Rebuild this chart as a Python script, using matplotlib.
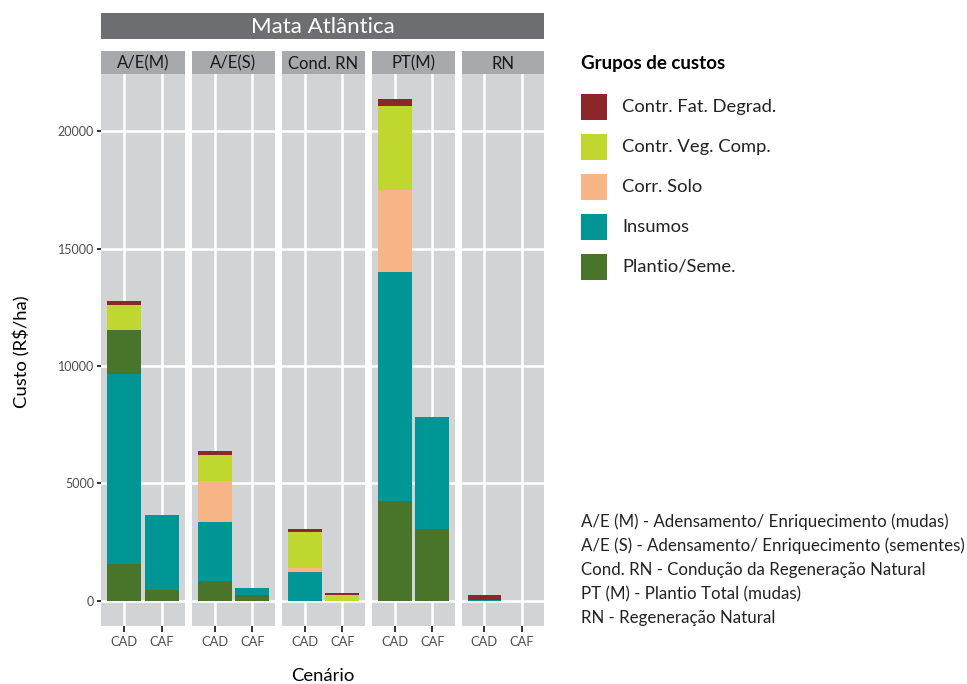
import matplotlib
matplotlib.use("Agg")
import matplotlib.pyplot as plt
import numpy as np

plt.rcParams['font.family'] = ['Lato', 'DejaVu Sans']

# Dados (R$/ha), segmentos empilhados de baixo para cima
facets = ['A/E(M)', 'A/E(S)', 'Cond. RN', 'PT(M)', 'RN']
cenarios = ['CAD', 'CAF']
grupos = ['Contr. Fat. Degrad.', 'Contr. Veg. Comp.', 'Corr. Solo', 'Insumos', 'Plantio/Seme.']
cores = ['#8B2629', '#C0D72F', '#F8B586', '#009696', '#48752A']

seg_facet = ['A/E(M)'] * 7 + ['A/E(S)'] * 7 + ['Cond. RN'] * 6 + ['PT(M)'] * 7 + ['RN'] * 2
seg_cenario = (['CAD'] * 5 + ['CAF'] * 2 + ['CAD'] * 5 + ['CAF'] * 2 + ['CAD'] * 4 + ['CAF'] * 2
               + ['CAD'] * 5 + ['CAF'] * 2 + ['CAD'] * 2)
seg_grupo = ['Plantio/Seme.', 'Insumos', 'Plantio/Seme.', 'Contr. Veg. Comp.', 'Contr. Fat. Degrad.',
             'Plantio/Seme.', 'Insumos',
             'Plantio/Seme.', 'Insumos', 'Corr. Solo', 'Contr. Veg. Comp.', 'Contr. Fat. Degrad.',
             'Plantio/Seme.', 'Insumos',
             'Insumos', 'Corr. Solo', 'Contr. Veg. Comp.', 'Contr. Fat. Degrad.',
             'Contr. Veg. Comp.', 'Contr. Fat. Degrad.',
             'Plantio/Seme.', 'Insumos', 'Corr. Solo', 'Contr. Veg. Comp.', 'Contr. Fat. Degrad.',
             'Plantio/Seme.', 'Insumos',
             'Insumos', 'Contr. Fat. Degrad.']
seg_valor = [1580, 8080, 1880, 1070, 170,
             470, 3200,
             840, 2540, 1740, 1080, 170,
             250, 300,
             1250, 170, 1530, 130,
             235, 90,
             4240, 9750, 3510, 3570, 300,
             3080, 4740,
             60, 200]

notas = ['A/E (M) - Adensamento/ Enriquecimento (mudas)',
         'A/E (S) - Adensamento/ Enriquecimento (sementes)',
         'Cond. RN - Condução da Regeneração Natural',
         'PT (M) - Plantio Total (mudas)',
         'RN - Regeneração Natural']

W, H = 967, 684
fig = plt.figure(figsize=(W / 100, H / 100), dpi=100)


def px_axes(x0, y0, x1, y1):
    return fig.add_axes([x0 / W, 1 - y1 / H, (x1 - x0) / W, (y1 - y0) / H])


cor_grupo = dict(zip(grupos, cores))

# totais para os limites do eixo y
totais = {}
for f, c, v in zip(seg_facet, seg_cenario, seg_valor):
    totais[(f, c)] = totais.get((f, c), 0) + v
ymax = max(totais.values())
ylim = (-0.05 * ymax, 1.05 * ymax)

panel_x = [(101, 185), (192, 275), (282, 365), (372, 455), (462, 544)]
top_px, bot_px = 74, 626

for i, (f, (x0, x1)) in enumerate(zip(facets, panel_x)):
    ax = px_axes(x0, top_px, x1, bot_px)
    ax.set_facecolor('#D1D3D4')
    bases = {c: 0 for c in cenarios}
    for sf, sc, sg, sv in zip(seg_facet, seg_cenario, seg_grupo, seg_valor):
        if sf != f:
            continue
        xpos = cenarios.index(sc) + 1
        ax.bar(xpos, sv, width=0.9, bottom=bases[sc], color=cor_grupo[sg], linewidth=0, zorder=3)
        bases[sc] += sv
    ax.set_xlim(0.4, 2.6)
    ax.set_ylim(*ylim)
    ax.set_xticks([1, 2])
    ax.set_xticklabels(cenarios, fontsize=9.3, color='#4D4D4D')
    ax.set_yticks([0, 5000, 10000, 15000, 20000])
    ax.grid(True, color='white', linewidth=1.8, zorder=0)
    ax.set_axisbelow(True)
    for s in ax.spines.values():
        s.set_visible(False)
    ax.tick_params(axis='x', length=4.3, width=1.3, color='#222222', pad=3)
    if i == 0:
        ax.set_yticklabels(['0', '5000', '10000', '15000', '20000'], fontsize=9, color='#4D4D4D')
        ax.tick_params(axis='y', length=3, width=1.3, color='#222222', pad=2)
    else:
        ax.tick_params(axis='y', length=0, labelleft=False)

    # faixa do painel
    st = px_axes(x0, 51, x1, 74)
    st.set_facecolor('#A7A9AC')
    st.set_xticks([])
    st.set_yticks([])
    for s in st.spines.values():
        s.set_visible(False)
    st.text(0.5, 0.45, f, ha='center', va='center', fontsize=12, color='#1A1A1A',
            transform=st.transAxes)

# faixa superior
top = px_axes(101, 13, 544, 39)
top.set_facecolor('#6D6E71')
top.set_xticks([])
top.set_yticks([])
for s in top.spines.values():
    s.set_visible(False)
top.text(0.5, 0.45, 'Mata Atlântica', ha='center', va='center', fontsize=16, color='white',
         transform=top.transAxes)

# títulos dos eixos
fig.text(22 / W, 1 - 352 / H, 'Custo (R$/ha)', rotation=90, ha='center', va='center',
         fontsize=13.3, color='black')
fig.text(323 / W, 1 - 676 / H, 'Cenário', ha='center', va='center', fontsize=13.3, color='black')

# legenda
fig.text(581 / W, 1 - 63 / H, 'Grupos de custos', ha='left', va='center', fontsize=13.5,
         color='black', fontweight='bold')
for k, (g, c) in enumerate(zip(grupos, cores)):
    yc = 107 + 40 * k
    kax = px_axes(581, yc - 13, 607, yc + 13)
    kax.set_facecolor(c)
    kax.set_xticks([])
    kax.set_yticks([])
    for s in kax.spines.values():
        s.set_visible(False)
    fig.text(622 / W, 1 - yc / H, g, ha='left', va='center', fontsize=13.2, color='#222222')

# notas
for k, n in enumerate(notas):
    fig.text(581 / W, 1 - (522 + 24 * k) / H, n, ha='left', va='center', fontsize=12.2,
             color='#222222')

fig.savefig('out.png', dpi=100)
